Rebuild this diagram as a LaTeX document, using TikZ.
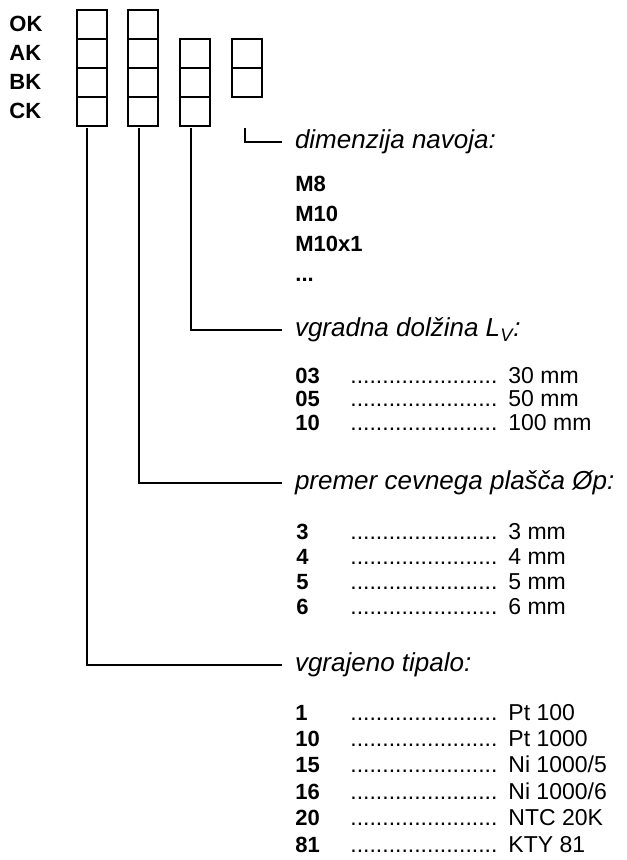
\documentclass[tikz,border=0pt]{standalone}
\usepackage{fontspec}
\setmainfont{Liberation Sans}

\newcommand{\leaderdots}{.......................}

\begin{document}
\begin{tikzpicture}[x=0.5pt,y=-0.5pt,
    cell/.style={draw,line width=1.1pt,minimum width=15pt,minimum height=14.5pt,inner sep=0pt,anchor=north west},
    lead/.style={line width=0.6pt},
    code/.style={font=\fontsize{11}{13}\selectfont\bfseries,inner sep=0pt,anchor=base west},
    item/.style={font=\fontsize{11.5}{13}\selectfont,inner sep=0pt,anchor=base west},
    heading/.style={font=\fontsize{13}{15}\selectfont\itshape,inner sep=0pt,outer xsep=6.5pt,anchor=west}]
    \useasboundingbox (0,0) rectangle (626,860);

    \foreach \r/\t in {0/OK,1/AK,2/BK,3/CK}{
        \node[code,anchor=west] (lbl\r) at (9,23.5+29*\r) {\t};
    }

    \foreach \r in {0,...,3}{
        \node[cell] (a\r) at (76,9+29*\r) {};
        \node[cell] (b\r) at (127,9+29*\r) {};
    }
    \foreach \r in {1,2,3}{
        \node[cell] (c\r) at (179,9+29*\r) {};
    }
    \foreach \r in {1,2}{
        \node[cell] (d\r) at (231,9+29*\r) {};
    }

    \node[heading] (navoj) at (282,142) {dimenzija navoja:};
    \node[heading] (dolzina) at (282,330) {vgradna dolžina L\textsubscript{V}:};
    \node[heading] (plasc) at (282,483) {premer cevnega plašča Øp:};
    \node[heading] (tipalo) at (282,665) {vgrajeno tipalo:};

    \coordinate (top1) at (87,128);
    \coordinate (top2) at (139,128);
    \coordinate (top3) at (191,128);
    \coordinate (top4) at (245,128);

    \draw[lead] (top4) |- (navoj.west);
    \draw[lead] (top3) |- (dolzina.west);
    \draw[lead] (top2) |- (plasc.west);
    \draw[lead] (top1) |- (tipalo.west);

    \foreach \t [count=\i from 0] in {M8,M10,M10x1}{
        \node[code] (navoj\i) at (295,192+30*\i) {\t};
    }
    \node[code] (navoj3) at (295,282) {...};

    \foreach \c/\v [count=\i from 0] in {03/30 mm,05/50 mm,10/100 mm}{
        \node[code] (lv\i) at (295,384+23*\i) {\c};
        \node[item] (lvdots\i) at (350,384+23*\i) {\leaderdots};
        \node[item] (lvval\i) at (508,384+23*\i) {\v};
    }

    \foreach \c/\v [count=\i from 0] in {3/3 mm,4/4 mm,5/5 mm,6/6 mm}{
        \node[code] (op\i) at (296,539+25*\i) {\c};
        \node[item] (opdots\i) at (350,539+25*\i) {\leaderdots};
        \node[item] (opval\i) at (508,539+25*\i) {\v};
    }

    \foreach \c/\v [count=\i from 0] in {1/Pt 100,10/Pt 1000,15/{Ni 1000/5},16/{Ni 1000/6},20/NTC 20K,81/KTY 81}{
        \node[code] (tip\i) at (295,720+26.4*\i) {\c};
        \node[item] (tipdots\i) at (350,720+26.4*\i) {\leaderdots};
        \node[item] (tipval\i) at (508,720+26.4*\i) {\v};
    }
\end{tikzpicture}
\end{document}
